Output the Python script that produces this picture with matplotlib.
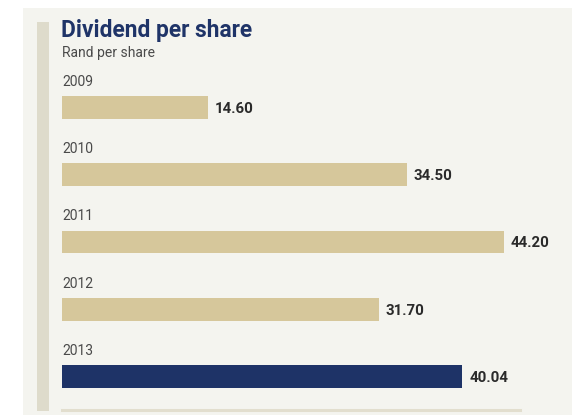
import matplotlib
matplotlib.use("Agg")
import matplotlib.pyplot as plt
from matplotlib.patches import Rectangle
from matplotlib.lines import Line2D

years = ["2009", "2010", "2011", "2012", "2013"]
dividends = [14.60, 34.50, 44.20, 31.70, 40.04]
bar_colors = ["#d6c79b", "#d6c79b", "#d6c79b", "#d6c79b", "#1e3367"]

W, H = 572, 416
fig = plt.figure(figsize=(W / 100, H / 100), dpi=100, facecolor="white")

def px(x, y):
    """Pixel position (from top-left) to figure fraction."""
    return x / W, 1 - y / H

# panel background
x0, y0 = px(23, 415)
fig.patches.append(Rectangle((x0, y0), (572 - 23) / W, (415 - 8) / H,
                             transform=fig.transFigure, facecolor="#f4f4ef",
                             edgecolor="none", zorder=-2))
# vertical accent strip
x0, y0 = px(37, 411)
fig.patches.append(Rectangle((x0, y0), 12 / W, (411 - 22) / H,
                             transform=fig.transFigure, facecolor="#dedbcb",
                             edgecolor="none", zorder=-1))
# bottom rule
fig.lines.append(Line2D([62 / W, 520 / W], [1 - 409.5 / H, 1 - 409.5 / H],
                        transform=fig.transFigure, color="#e2dece", lw=2.2, zorder=-1))

# bar axes: x from 62 px at 10 px per unit, rows every 67.25 px
step, first = 67.25, 107.5
ax = fig.add_axes([62 / W, 0, (572 - 62) / W, 1])
ax.set_zorder(2)
ax.set_facecolor("none")
ax.set_xlim(0, (572 - 62) / 10)
ax.set_ylim((H - first) / step, -first / step)
ax.axis("off")

idx = list(range(len(years)))
ax.barh(idx, dividends, height=23 / step, color=bar_colors, zorder=2)

fam = ["Roboto", "DejaVu Sans"]
for i, (yr, v) in enumerate(zip(years, dividends)):
    ax.text(0, i - 25.5 / step, yr, ha="left", va="center", fontsize=10,
            color="#4a4a4a", family=fam)
    ax.text(v + 0.7, i + 1.5 / step, f"{v:.2f}", ha="left", va="center",
            fontsize=10.8, fontweight="bold", color="#2a2a2a", family=fam)

fx, fy = px(61, 31)
fig.text(fx, fy, "Dividend per share", ha="left", va="center", fontsize=16.4,
         fontweight="bold", color="#1f3468", family=fam)
fx, fy = px(62, 53)
fig.text(fx, fy, "Rand per share", ha="left", va="center", fontsize=10,
         color="#4a4a4a", family=fam)

fig.savefig("out.png", dpi=100, facecolor="white")
